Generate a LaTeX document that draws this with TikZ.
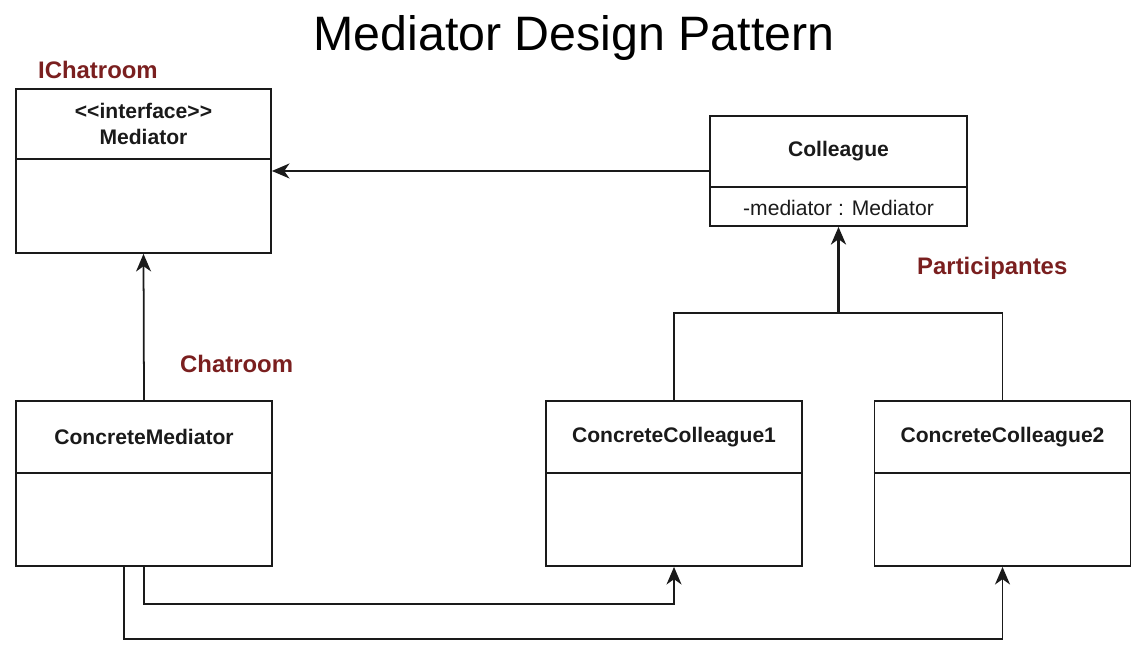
\documentclass[tikz,border=0pt]{standalone}
\usepackage{fontspec}
\setmainfont{Liberation Sans}
\setsansfont{Liberation Sans}
\usetikzlibrary{arrows.meta,calc}
\definecolor{ink}{HTML}{1A1A1A}
\definecolor{maroon}{HTML}{7A1F1F}

\begin{document}
\begin{tikzpicture}[font=\sffamily,text=ink,>={Stealth[length=10pt,width=8.5pt,inset=3pt]},
  classbox/.style={draw=ink,line width=1pt,minimum width=5.12cm,
    minimum height=3.3cm,inner sep=0pt},
  classname/.style={font=\fontsize{12}{14.7}\selectfont\bfseries,align=center},
  member/.style={font=\fontsize{12}{14.7}\selectfont},
  role/.style={font=\fontsize{13.6}{16}\selectfont\bfseries,text=maroon,anchor=west},
  link/.style={draw=ink,line width=1pt}]
  \useasboundingbox (0,0) rectangle (22.84,13.08);
  \pgfmathsetmacro{\headh}{1.44}

  \node[font=\fontsize{27.5}{32}\selectfont,text=black] (title) at (11.48,12.32)
    {Mediator Design Pattern};

  % the five classes
  \node[classbox,minimum width=5.1cm,minimum height=3.28cm] (med) at (2.87,9.66) {};
  \node[classbox,minimum width=5.14cm,minimum height=2.2cm] (col) at (16.77,9.66) {};
  \node[classbox] (cmed) at (2.88,3.41) {};
  \node[classbox] (cc1) at (13.48,3.41) {};
  \node[classbox] (cc2) at (20.05,3.41) {};

  % header lines
  \draw[link] ($(med.north west)+(0,-1.42)$)--($(med.north east)+(0,-1.42)$);
  \draw[link] ($(col.north west)+(0,-\headh)$)--($(col.north east)+(0,-\headh)$);
  \foreach \c in {cmed,cc1,cc2}
    \draw[link] ($(\c.north west)+(0,-1.46)$)--($(\c.north east)+(0,-1.46)$);

  \node[classname] (medname) at ($(med.north)+(0,-0.71)$)
    {<\kern0pt<interface>\kern0pt>\\Mediator};
  \node[classname] (colname) at ($(col.north)+(0,-0.72)$) {Colleague};
  \node[member] (colattr) at ($(col.south)+(0,0.38)$) {-mediator : Mediator};
  \node[classname] (cmedname) at ($(cmed.north)+(0,-0.73)$) {ConcreteMediator};
  \node[classname] (cc1name) at ($(cc1.north)+(0,-0.73)$) {ConcreteColleague1};
  \node[classname] (cc2name) at ($(cc2.north)+(0,-0.73)$) {ConcreteColleague2};

  \node[role] (ichat) at (0.64,11.68) {IChatroom};
  \node[role] (chat) at (3.48,5.80) {Chatroom};
  \node[role] (parts) at (18.22,7.72) {Participantes};

  % associations and inheritance
  \draw[link,->] (col.west)--(med.east);
  \draw[link,->] (cmed.north)--(med.south);
  \coordinate (join) at (col.south |- 0,6.82);
  \draw[link] (cc1.north)--(cc1.north |- join)--(cc2.north |- join)--(cc2.north);
  \draw[draw=ink,line width=2pt,->] (join)--(col.south);

  \draw[link,->] (cmed.south)--++(0,-0.74) -| (cc1.south);
  \draw[link,->] ($(cmed.south)+(-0.4,0)$)--++(0,-1.44) -| (cc2.south);
\end{tikzpicture}
\end{document}
